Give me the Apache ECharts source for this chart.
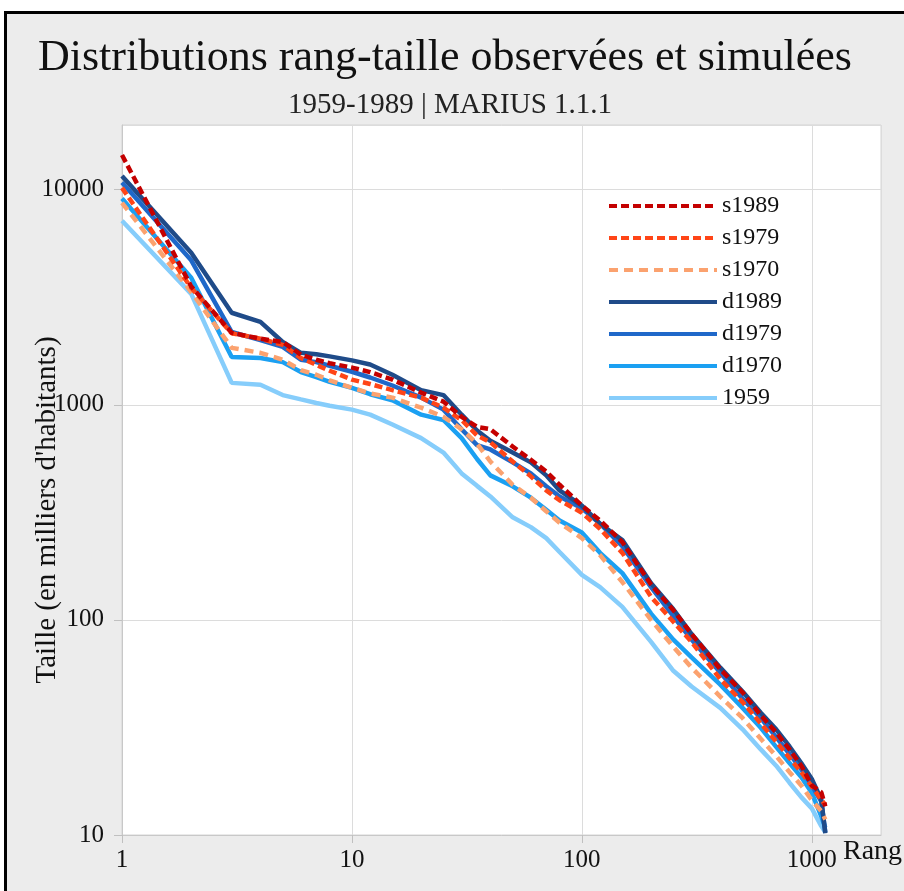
<!DOCTYPE html>
<html>
<head>
<meta charset="utf-8">
<script src="https://cdn.jsdelivr.net/npm/echarts@6/dist/echarts.min.js"></script>
<style>
  html, body { margin: 0; padding: 0; background: #fff; }
  #chart { width: 904px; height: 891px; }
</style>
</head>
<body>
<div id="chart"></div>
<script>
// rangs communs a toutes les series
const ranks = [1, 2, 3, 4, 5, 6, 7, 8, 10, 12, 15, 20, 25, 30, 35, 40, 50, 60, 70, 80,
  100, 120, 150, 200, 250, 300, 400, 500, 600, 700, 800, 900, 1000, 1100, 1145]

// tailles (milliers d'habitants)
const s1989 = [14500, 3550, 2160, 2030, 1960, 1710, 1620, 1560, 1490, 1420, 1310, 1140, 1035, 880, 790, 770, 640, 555, 490, 425,
  340, 290, 230, 146, 111, 86, 59, 46, 36, 30, 25, 21, 17, 15.8, 13.6]
const s1979 = [10200, 3500, 2150, 2030, 1900, 1650, 1535, 1440, 1310, 1250, 1170, 1080, 970, 850, 720, 670, 545, 465, 400, 360,
  315, 265, 205, 128, 98, 79, 53, 41.5, 33, 27.2, 22.8, 19.6, 16.8, 14.6, 13.8]
const s1970 = [8700, 3350, 1840, 1745, 1620, 1450, 1380, 1300, 1200, 1130, 1080, 970, 880, 770, 660, 545, 425, 370, 320, 283,
  240, 200, 150, 100, 75, 60, 44, 35, 28, 23.3, 19.6, 17, 14.5, 12.9, 11.8]
const d1989 = [11600, 5100, 2680, 2430, 1960, 1745, 1720, 1680, 1610, 1540, 1380, 1170, 1110, 900, 760, 680, 600, 540, 470, 400,
  340, 280, 235, 148, 112, 86, 60, 46.5, 37, 31, 25.8, 21.6, 18.2, 14.6, 10.2]
const d1979 = [10800, 4700, 2180, 2000, 1860, 1620, 1580, 1520, 1425, 1340, 1230, 1080, 950, 770, 650, 620, 540, 480, 418, 375,
  330, 280, 220, 142, 104, 81, 57, 43, 35, 28.5, 23.8, 20.2, 17, 14.3, 10.3]
const d1970 = [9100, 3900, 1670, 1650, 1580, 1420, 1345, 1280, 1200, 1120, 1050, 900, 850, 700, 560, 470, 418, 370, 325, 290,
  255, 205, 165, 107, 81, 67, 50, 39, 31.5, 25.7, 21.6, 18.6, 15.7, 12.2, 10.8]
const y1959 = [7170, 3280, 1265, 1240, 1110, 1060, 1020, 990, 950, 900, 810, 700, 600, 480, 420, 375, 300, 270, 240, 207,
  162, 142, 115, 79, 58, 49, 39, 31, 25, 21, 17.5, 15, 13.3, 11, 10.3]

const xTicks = ['1', '10', '100', '1000']
const yTicks = ['10', '100', '1000', '10000']

const FONT = '"Liberation Serif", "DejaVu Serif", serif'

function pairs (values) {
  return ranks.map((r, i) => [r, values[i]])
}

function line (name, values, color, dash) {
  return {
    name: name,
    type: 'line',
    data: pairs(values),
    symbol: 'none',
    smooth: false,
    lineStyle: { color: color, width: 4.5, type: dash || 'solid' },
    itemStyle: { color: color }
  }
}

const chart = echarts.init(document.getElementById('chart'))

const option = {
  backgroundColor: '#ffffff',
  animation: false,
  graphic: [
    {
      type: 'rect',
      z: -10,
      shape: { x: 5.5, y: 12.5, width: 1000, height: 1000 },
      style: { fill: '#ececec', stroke: '#000', lineWidth: 3 }
    },
    {
      type: 'text',
      left: 843,
      top: 838,
      style: { text: 'Rang', font: '28px ' + FONT, fill: '#111' }
    },
    {
      type: 'text',
      x: 47,
      y: 510,
      rotation: Math.PI / 2,
      style: {
        text: "Taille (en milliers d'habitants)",
        font: '29px ' + FONT,
        fill: '#111',
        textAlign: 'center',
        textVerticalAlign: 'middle'
      }
    }
  ],
  title: [
    {
      text: 'Distributions rang-taille observées et simulées',
      left: 33,
      top: 31,
      textStyle: { fontFamily: FONT, fontSize: 44, fontWeight: 'normal', color: '#111' }
    },
    {
      text: '1959-1989 | MARIUS 1.1.1',
      left: 283,
      top: 86,
      textStyle: { fontFamily: FONT, fontSize: 29, fontWeight: 'normal', color: '#222' }
    }
  ],
  legend: {
    orient: 'vertical',
    left: 607,
    top: 194,
    padding: 0,
    itemWidth: 108,
    itemHeight: 14,
    itemGap: 8,
    itemStyle: { opacity: 0 },
    lineStyle: { width: 4 },
    data: ['s1989', 's1979', 's1970', 'd1989', 'd1979', 'd1970', '1959'],
    textStyle: { fontFamily: FONT, fontSize: 24, color: '#111', lineHeight: 20 }
  },
  grid: {
    left: 122,
    top: 125,
    right: 23,
    bottom: 56,
    show: true,
    backgroundColor: '#fff',
    borderColor: '#d4d4d4',
    borderWidth: 1
  },
  xAxis: {
    type: 'log',
    logBase: 10,
    min: 1,
    max: 2000,
    axisLine: { show: true, lineStyle: { color: '#c8c8c8', width: 1 } },
    axisTick: { show: true, length: 8, lineStyle: { color: '#c0c0c0' } },
    splitLine: { show: true, lineStyle: { color: '#dcdcdc', width: 1 } },
    axisLabel: {
      showMaxLabel: false,
      margin: 13,
      fontFamily: FONT,
      fontSize: 25,
      color: '#111',
      formatter: function (v) {
        const s = String(Math.round(v))
        return xTicks.indexOf(s) >= 0 ? s : ''
      }
    }
  },
  yAxis: {
    type: 'log',
    logBase: 10,
    min: 10,
    max: 20000,
    axisLine: { show: true, lineStyle: { color: '#c8c8c8', width: 1 } },
    axisTick: { show: true, length: 8, lineStyle: { color: '#c0c0c0' } },
    splitLine: { show: true, lineStyle: { color: '#dcdcdc', width: 1 } },
    axisLabel: {
      showMaxLabel: false,
      margin: 18,
      fontFamily: FONT,
      fontSize: 25,
      color: '#111',
      formatter: function (v) {
        const s = String(Math.round(v))
        return yTicks.indexOf(s) >= 0 ? s : ''
      }
    }
  },
  series: [
    line('1959', y1959, '#86cdfb'),
    line('d1970', d1970, '#1ba0f2'),
    line('d1979', d1979, '#1f68c9'),
    line('d1989', d1989, '#1f4b89'),
    line('s1970', s1970, '#fba26f', [9, 6]),
    line('s1979', s1979, '#ff4517', [8, 4]),
    line('s1989', s1989, '#c40000', [8, 4])
  ]
}

chart.setOption(option)
</script>
</body>
</html>
